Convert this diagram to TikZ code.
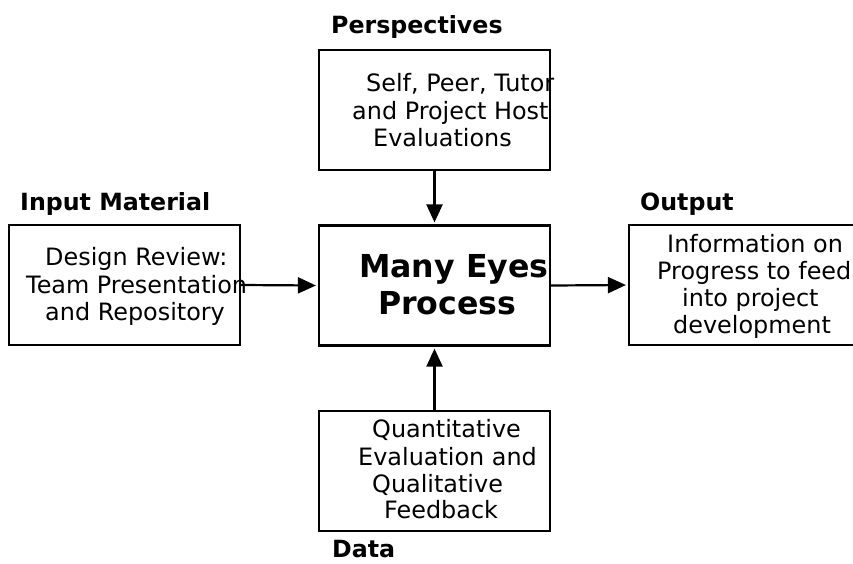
\documentclass[tikz,border=0pt]{standalone}
\usepackage{fontspec}
\setmainfont{DejaVu Sans}
\usetikzlibrary{arrows.meta}
\begin{document}
\begin{tikzpicture}[x=1pt,y=-1pt,
  box/.style={draw=black,line width=2.2pt,minimum width=231pt,minimum height=120pt,inner sep=0pt},
  txt/.style={anchor=base west,inner sep=0pt,font=\fontsize{23.9}{27.6}\selectfont},
  head/.style={anchor=base west,inner sep=0pt,font=\fontsize{23.7}{27.6}\selectfont\bfseries},
  big/.style={anchor=base west,inner sep=0pt,font=\fontsize{31.6}{37}\selectfont\bfseries},
  conn/.style={line width=2.2pt,-{Triangle[length=18pt,width=16pt]},shorten >=2pt}]
\useasboundingbox (0,0) rectangle (853,563);
% boxes
\node[box] (top) at (434.5,110) {};
\node[box] (left) at (124.5,285) {};
\node[box] (mid) at (434.5,285.5) {};
\node[box] (right) at (744.5,285) {};
\node[box] (bot) at (434.5,471) {};
% headings
\node[head] (hPersp) at (331,33) {Perspectives};
\node[head] (hInput) at (20,210) {Input Material};
\node[head] (hOut) at (640,210) {Output};
\node[head] (hData) at (332,557) {Data};
% top text
\node[txt] (ta) at (366,91) {Self, Peer, Tutor};
\node[txt] (tb) at (352,119) {and Project Host};
\node[txt] (tc) at (373,146.5) {Evaluations};
% left text
\node[txt] (la) at (45,265) {Design Review:};
\node[txt] (lb) at (26,293) {Team Presentation};
\node[txt] (lc) at (45,320) {and Repository};
% middle text
\node[big] (ma) at (359,277) {Many Eyes};
\node[big] (mb) at (378,314) {Process};
% right text
\node[txt] (ra) at (667,252) {Information on};
\node[txt] (rb) at (657,279) {Progress to feed};
\node[txt] (rc) at (682,306) {into project};
\node[txt] (rd) at (673,333) {development};
% bottom text
\node[txt] (ba) at (372,437) {Quantitative};
\node[txt] (bb) at (358,465) {Evaluation and};
\node[txt] (bc) at (372,492) {Qualitative};
\node[txt] (bd) at (384,518) {Feedback};
% connectors
\draw[conn] (top.south) -- (mid.north);
\draw[conn] (left.east) -- (mid.west);
\draw[conn] (mid.east) -- (right.west);
\draw[conn] (bot.north) -- (mid.south);
\end{tikzpicture}
\end{document}
